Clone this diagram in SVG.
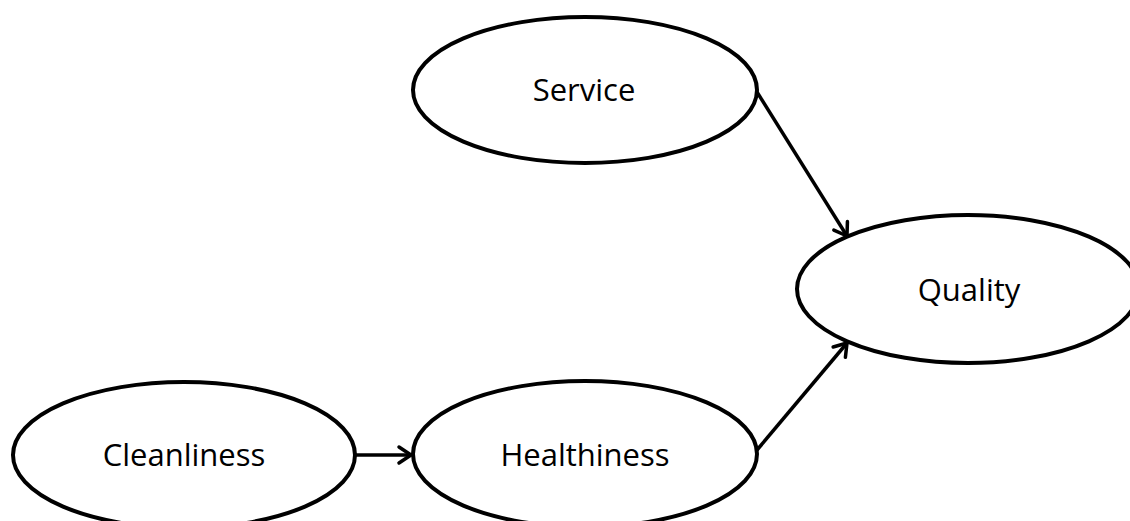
<svg xmlns="http://www.w3.org/2000/svg" width="1130" height="521" viewBox="0 0 1130 521">
  <style>
    .node ellipse { fill: #ffffff; stroke: #000000; stroke-width: 4; }
    .node text { font-family: "Open Sans", "Liberation Sans", sans-serif; font-size: 31px; fill: #000000; text-anchor: middle; }
    .edge { stroke: #000000; stroke-width: 3.5; fill: none; marker-end: url(#arrow); }
  </style>
  <defs>
    <marker id="arrow" markerUnits="userSpaceOnUse" markerWidth="24" markerHeight="24" viewBox="0 0 24 24" refX="20" refY="12" orient="auto">
      <path d="M8,4 L20,12 L8,20" fill="none" stroke="#000000" stroke-width="3.5" stroke-linecap="round" stroke-linejoin="round"/>
    </marker>
  </defs>
  <rect width="1130" height="521" fill="#ffffff"/>
  <g id="connectors">
    <line class="edge" x1="757" y1="92" x2="847" y2="236"/>
    <line class="edge" x1="757" y1="450" x2="847" y2="343"/>
    <line class="edge" x1="355" y1="455" x2="411" y2="455"/>
  </g>
  <g id="node-service" class="node">
    <ellipse cx="585" cy="90" rx="172" ry="73"/>
    <text x="584" y="101">Service</text>
  </g>
  <g id="node-quality" class="node">
    <ellipse cx="968" cy="289" rx="171" ry="74"/>
    <text x="969" y="301">Quality</text>
  </g>
  <g id="node-cleanliness" class="node">
    <ellipse cx="184" cy="455" rx="171" ry="73"/>
    <text x="184" y="466">Cleanliness</text>
  </g>
  <g id="node-healthiness" class="node">
    <ellipse cx="585" cy="454" rx="172" ry="73"/>
    <text x="585" y="466">Healthiness</text>
  </g>
</svg>
